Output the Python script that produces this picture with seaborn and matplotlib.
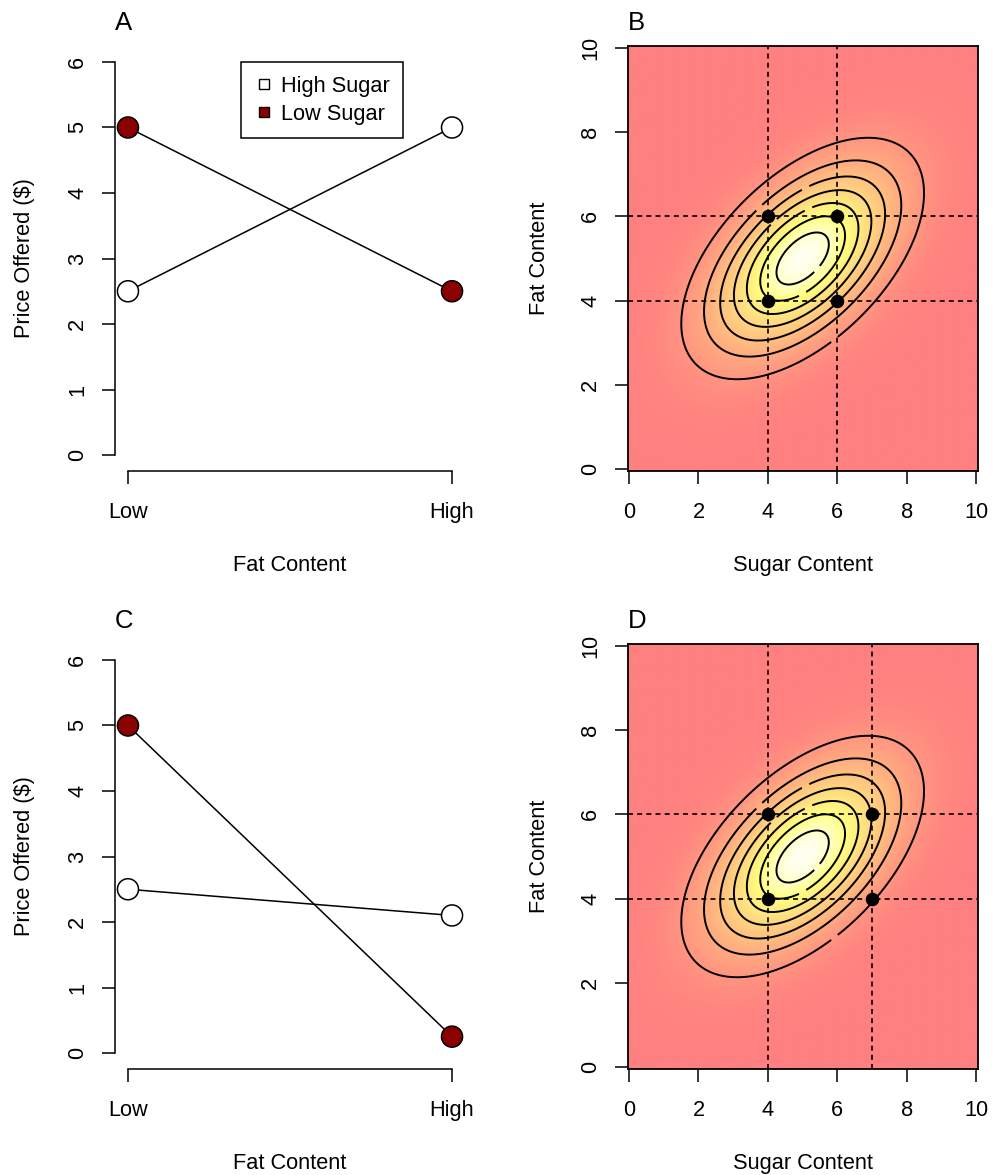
import numpy as np
import pandas as pd
import matplotlib
matplotlib.use('Agg')
import matplotlib.pyplot as plt
import seaborn as sns
from matplotlib.colors import LinearSegmentedColormap
from matplotlib.lines import Line2D

# --- data ---
fat_levels = ['Low', 'High']
fat_pos = [1, 2]
sugar_groups = ['High Sugar', 'Low Sugar']

price_a_high_sugar = [2.5, 5.0]
price_a_low_sugar = [5.0, 2.5]
price_c_high_sugar = [2.5, 2.1]
price_c_low_sugar = [5.0, 0.25]

price_ticks = [0, 1, 2, 3, 4, 5, 6]
content_ticks = [0, 2, 4, 6, 8, 10]

# bivariate normal preference surface (sugar, fat)
mean_sugar, mean_fat = 5.0, 5.0
sd_sugar, sd_fat = 1.73, 1.42
rho = 0.54
contour_levels = [0.01, 0.02, 0.03, 0.04, 0.05, 0.06, 0.07]

sample_b_sugar = [4, 4, 6, 6]
sample_b_fat = [4, 6, 4, 6]
sample_d_sugar = [4, 4, 7, 7]
sample_d_fat = [4, 6, 4, 6]

FS = 15.7
TITLE_FS = 18.5
W, H = 999, 1175

sns.set_theme(style='ticks')
plt.rcParams['font.family'] = ['Liberation Sans', 'DejaVu Sans']
plt.rcParams['axes.linewidth'] = 1.1
plt.rcParams['text.color'] = 'black'
plt.rcParams['axes.labelcolor'] = 'black'
plt.rcParams['axes.edgecolor'] = 'black'
plt.rcParams['xtick.color'] = 'black'
plt.rcParams['ytick.color'] = 'black'

palette = {'High Sugar': 'white', 'Low Sugar': '#8B0000'}
heat_half = LinearSegmentedColormap.from_list(
    'heat_half', [(0.0, '#FF8080'), (0.78, '#FFFF80'), (1.0, '#FFFFF4')])


def axes_rect(left, top, right, bottom):
    return [left / W, 1 - bottom / H, (right - left) / W, (bottom - top) / H]


def style_ticks(ax):
    ax.tick_params(axis='both', length=9.4, width=1.1, labelsize=FS,
                   direction='out', color='black', labelcolor='black')
    ax.tick_params(axis='x', pad=13.0)
    ax.tick_params(axis='y', pad=9.8)
    for lab in ax.get_yticklabels():
        lab.set_rotation(90)
        lab.set_va('center')


def line_panel(ax, high, low, letter, legend=False):
    df = pd.DataFrame({
        'fat': fat_pos * 2,
        'price': high + low,
        'sugar': [sugar_groups[0]] * 2 + [sugar_groups[1]] * 2,
    })
    sns.lineplot(data=df, x='fat', y='price', units='sugar', estimator=None,
                 color='black', linewidth=1.1, ax=ax, legend=False)
    sns.scatterplot(data=df, x='fat', y='price', hue='sugar', palette=palette,
                    s=230, edgecolor='black', linewidth=1.1, ax=ax,
                    legend=False, zorder=3)
    ax.set_xlim(0.96, 2.04)
    ax.set_ylim(-0.244, 6.244)
    ax.set_xticks(fat_pos)
    ax.set_xticklabels(fat_levels)
    ax.set_yticks(price_ticks)
    for side in ['top', 'right']:
        ax.spines[side].set_visible(False)
    ax.spines['left'].set_bounds(0, 6)
    ax.spines['bottom'].set_bounds(1, 2)
    style_ticks(ax)
    ax.set_xlabel('Fat Content', fontsize=FS)
    ax.set_ylabel('Price Offered ($)', fontsize=FS)
    ax.xaxis.set_label_coords(0.5, -0.198)
    ax.yaxis.set_label_coords(-0.229, 0.5)
    ax.set_title(letter, loc='left', fontsize=TITLE_FS, pad=11.5)
    if legend:
        handles = [Line2D([], [], marker='s', ls='', ms=7.5, mfc=palette[g],
                          mec='black', mew=1.0) for g in sugar_groups]
        leg = ax.legend(handles, sugar_groups, loc='upper left',
                        bbox_to_anchor=(241 / W, 1 - 62 / H),
                        bbox_transform=ax.figure.transFigure,
                        fontsize=FS, frameon=True, fancybox=False,
                        edgecolor='black', framealpha=1, borderpad=0.62,
                        labelspacing=0.33, handlelength=0.9,
                        handletextpad=0.3, borderaxespad=0)
        leg.get_frame().set_linewidth(1.1)


def surface_panel(ax, pts_sugar, pts_fat, letter):
    grid = np.linspace(0, 10, 241)
    gx, gy = np.meshgrid(grid, grid)
    zx = (gx - mean_sugar) / sd_sugar
    zy = (gy - mean_fat) / sd_fat
    q = (zx ** 2 - 2 * rho * zx * zy + zy ** 2) / (1 - rho ** 2)
    dens = np.exp(-q / 2) / (2 * np.pi * sd_sugar * sd_fat * np.sqrt(1 - rho ** 2))

    ax.imshow(dens, extent=[-0.03, 10.05, -0.05, 10.05], origin='lower',
              cmap=heat_half, aspect='auto', interpolation='bilinear', zorder=0)
    cs = ax.contour(gx, gy, dens, levels=contour_levels, colors='black',
                    linewidths=1.4, zorder=1)
    ax.clabel(cs, fmt={lv: '  ' for lv in contour_levels}, inline=True,
              fontsize=8, inline_spacing=1)

    for s in sorted(set(pts_sugar)):
        ax.axvline(s, color='black', lw=1.2, ls=(0, (3, 2.5)), zorder=2)
    for f in sorted(set(pts_fat)):
        ax.axhline(f, color='black', lw=1.2, ls=(0, (3, 2.5)), zorder=2)
    sns.scatterplot(x=pts_sugar, y=pts_fat, color='black', s=95,
                    edgecolor='black', linewidth=0, ax=ax, zorder=3)

    ax.set_xlim(-0.03, 10.05)
    ax.set_ylim(-0.05, 10.05)
    ax.set_xticks(content_ticks)
    ax.set_yticks(content_ticks)
    for side in ax.spines.values():
        side.set_linewidth(1.3)
        side.set_color('black')
    style_ticks(ax)
    ax.set_xlabel('Sugar Content', fontsize=FS)
    ax.set_ylabel('Fat Content', fontsize=FS)
    ax.xaxis.set_label_coords(0.5, -0.198)
    ax.yaxis.set_label_coords(-0.224, 0.5)
    ax.set_title(letter, loc='left', fontsize=TITLE_FS, pad=11.5)


fig = plt.figure(figsize=(W / 100, H / 100), dpi=100)
ax_a = fig.add_axes(axes_rect(115, 46, 465, 471))
ax_b = fig.add_axes(axes_rect(628, 46, 978, 471))
ax_c = fig.add_axes(axes_rect(115, 644, 465, 1069))
ax_d = fig.add_axes(axes_rect(628, 644, 978, 1069))

line_panel(ax_a, price_a_high_sugar, price_a_low_sugar, 'A', legend=True)
surface_panel(ax_b, sample_b_sugar, sample_b_fat, 'B')
line_panel(ax_c, price_c_high_sugar, price_c_low_sugar, 'C')
surface_panel(ax_d, sample_d_sugar, sample_d_fat, 'D')

fig.savefig('out.png', dpi=100, facecolor='white')
